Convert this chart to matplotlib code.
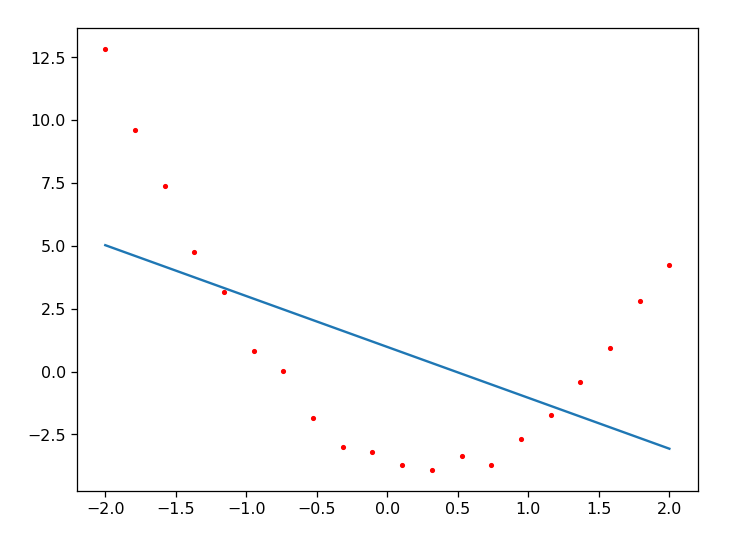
import numpy as np
import matplotlib
matplotlib.use("Agg")
import matplotlib.pyplot as plt

x_points = np.linspace(-2, 2, 20)
y_points = [12.84, 9.61, 7.38, 4.75, 3.15, 0.80, 0.04, -1.83, -2.99, -3.19,
            -3.71, -3.91, -3.35, -3.71, -2.67, -1.72, -0.40, 0.92, 2.79, 4.23]
line_x = [-2.0, 2.0]
line_y = [5.03, -3.07]

fig, ax = plt.subplots(figsize=(6.4, 4.8), dpi=114)
fig.subplots_adjust(left=77/729, right=697/729, top=1-28/546, bottom=1-490/546)
ax.plot(x_points, y_points, 'r.', markersize=4.5)
ax.plot(line_x, line_y, color='#1f77b4')
fig.savefig("out.png", dpi=114)
